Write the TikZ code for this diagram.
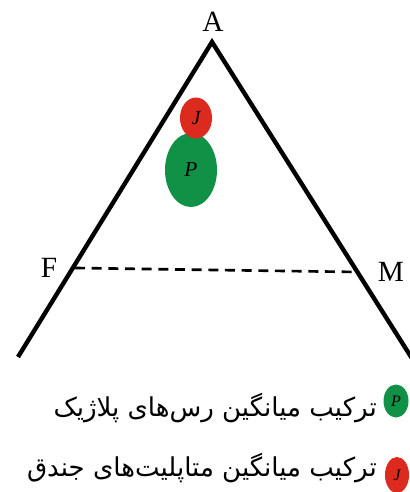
\documentclass[tikz,border=0pt]{standalone}
\usepackage{fontspec}
\setmainfont{Liberation Serif}
\newfontfamily\arabicfont[Script=Arabic]{DejaVu Sans}
\TeXXeTstate=1
\usetikzlibrary{positioning,shapes.geometric}
\definecolor{Redj}{HTML}{DC2A1E}
\definecolor{Greenp}{HTML}{119146}

\begin{document}
\begin{tikzpicture}[x=0.75pt,y=-0.75pt]
\useasboundingbox (0,0) rectangle (410,492);

% Triangle sides
\coordinate (apex) at (212,42);
\coordinate (lf) at (18,357);
\coordinate (rt) at (413,360);
\draw[line width=3.3pt, line join=miter] (lf) -- (apex) -- (rt);

% Vertex labels
\node[font=\fontsize{22}{24}\selectfont] (A) at (213,22) {A};
\node[font=\fontsize{22}{24}\selectfont] (F) at (49,268) {F};
\node[font=\fontsize{22}{24}\selectfont] (M) at (391,272) {M};

% Dashed line F--M
\coordinate (f) at (75,268);
\coordinate (m) at (357,272);
\draw[line width=2pt, dash pattern=on 7.5pt off 5pt] (f) -- (m);

% Composition ellipses
\node[ellipse, fill=Greenp, minimum width=52*0.75pt, minimum height=74*0.75pt, inner sep=0pt, font=\fontsize{16}{18}\selectfont\itshape] (P) at (191,170) {P};
\node[ellipse, fill=Redj, minimum width=32*0.75pt, minimum height=41*0.75pt, inner sep=0pt, font=\fontsize{15}{17}\selectfont\itshape] (J) at (196,118) {J};

% Legend
\node[ellipse, fill=Greenp, minimum width=25*0.75pt, minimum height=33*0.75pt, inner sep=0pt, font=\fontsize{12}{14}\selectfont\itshape] (lp) at (396,401) {P};
\node[ellipse, fill=Redj, minimum width=24*0.75pt, minimum height=36*0.75pt, inner sep=0pt, font=\fontsize{12}{14}\selectfont\itshape] (lj) at (397,475) {J};
\node[anchor=east, inner sep=0pt, font=\fontsize{19.5}{22}\arabicfont] (tp) at (377,408) {\beginR ترکیب میانگین رس‌های پلاژیک\endR};
\node[anchor=east, inner sep=0pt, font=\fontsize{19.5}{22}\arabicfont] (tj) at (377,468) {\beginR ترکیب میانگین متاپلیت‌های جندق\endR};
\end{tikzpicture}
\end{document}
